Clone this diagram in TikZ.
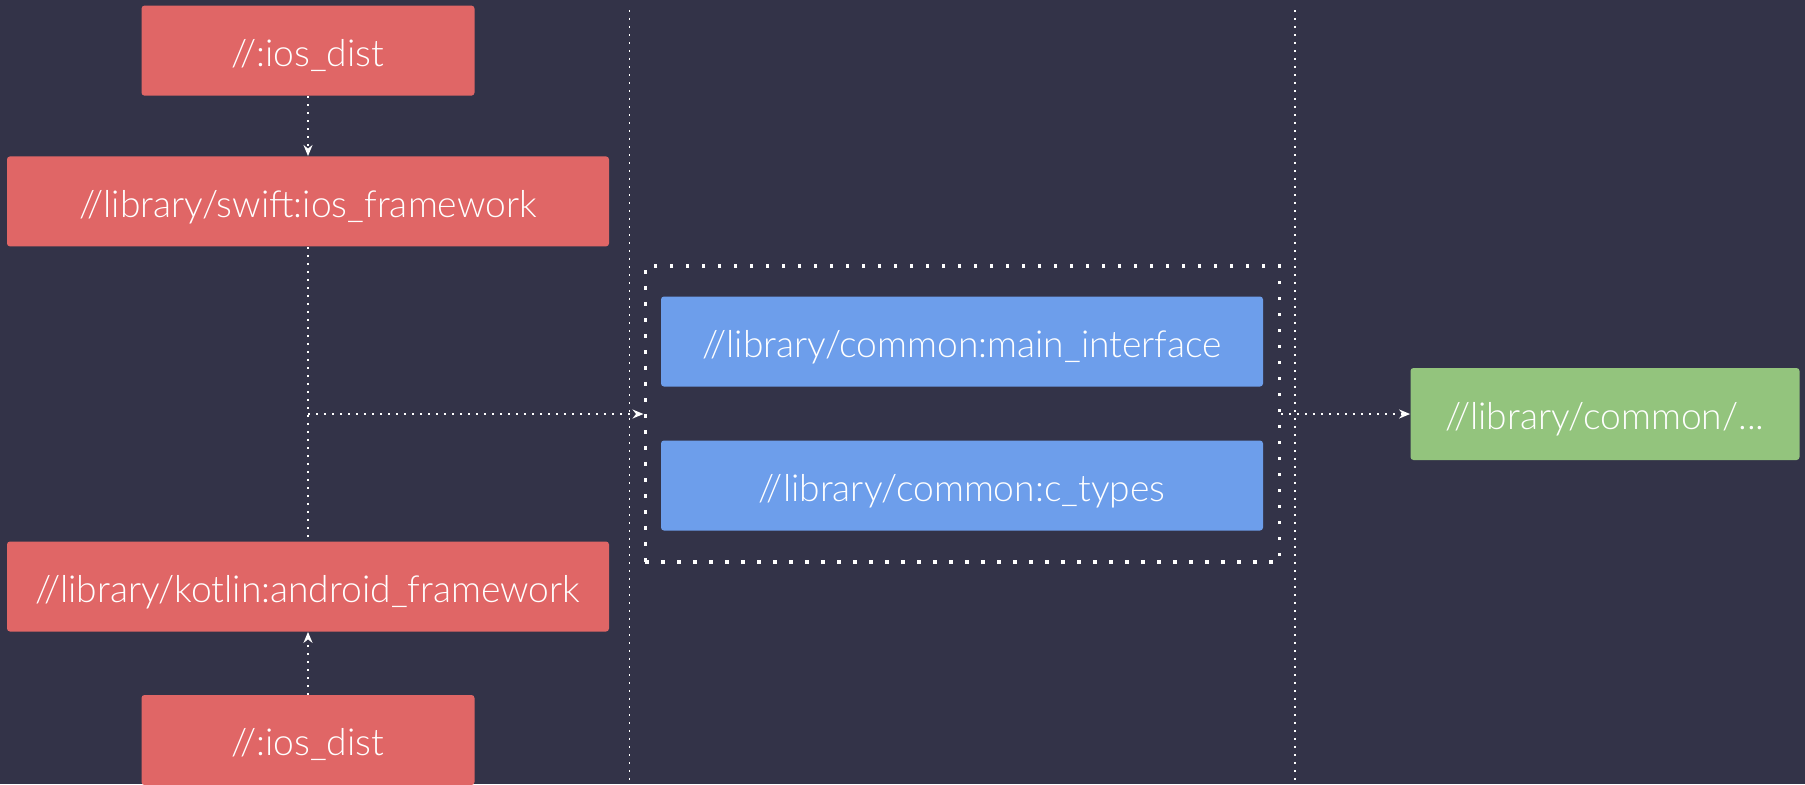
\documentclass[tikz,border=0pt]{standalone}
\usepackage{fontspec}
\setmainfont{Lato Light}
\usetikzlibrary{arrows.meta}
\definecolor{bg}{HTML}{333348}
\definecolor{tred}{HTML}{E06666}
\definecolor{tblue}{HTML}{6D9EEB}
\definecolor{tgreen}{HTML}{93C47D}
\tikzset{
  target/.style={rectangle, rounded corners=1.5pt, text=white, inner sep=0pt,
    font=\fontsize{18.6}{22}\selectfont, minimum height=45pt,
    text height=15.8pt, text depth=0pt},
  redbox/.style={target, fill=tred},
  bluebox/.style={target, fill=tblue},
  greenbox/.style={target, fill=tgreen},
  thindots/.style={draw=white, line width=0.9pt, dash pattern=on 0.9pt off 3.1pt},
  groupdots/.style={draw=white, line width=1.75pt, dash pattern=on 1.75pt off 6.25pt},
  dep/.style={thindots, -{Stealth[length=5.5pt,width=4.5pt,inset=1.8pt]}},
}
\begin{document}
\begin{tikzpicture}[x=0.5pt, y=-0.5pt]
  \fill[bg] (0,0) rectangle (1805,784);
  \useasboundingbox (0,0) rectangle (1805,784);

  % column separators
  \coordinate (s1t) at (629.5,10);
  \coordinate (s1b) at (629.5,784);
  \coordinate (s2t) at (1295,10);
  \coordinate (s2b) at (1295,784);
  \draw[thindots] (s1t) -- (s1b);
  \draw[thindots] (s2t) -- (s2b);

  % platform targets
  \node[redbox, minimum width=166.5pt] (iostop) at (308,50.6) {//:ios\_dist};
  \node[redbox, minimum width=301pt] (swift) at (308,201.4) {//library/swift:ios\_framework};
  \node[redbox, minimum width=301pt] (kotlin) at (308,586.5) {//library/kotlin:android\_framework};
  \node[redbox, minimum width=166.5pt] (iosbot) at (308,740) {//:ios\_dist};

  % common group
  \node[groupdots, rectangle, minimum width=317pt, minimum height=148pt, inner sep=0pt] (group) at (962.25,414) {};
  \node[bluebox, minimum width=301pt] (mainif) at (962,341.5) {//library/common:main\_interface};
  \node[bluebox, minimum width=301pt] (ctypes) at (962,485.5) {//library/common:c\_types};

  % downstream
  \node[greenbox, minimum width=194.5pt, minimum height=46pt] (more) at (1605,414) {//library/common/...};

  % dependencies
  \draw[dep] (iostop) -- (swift);
  \draw[dep] (iosbot) -- (kotlin);
  \draw[thindots] (swift) -- (kotlin);
  \coordinate (junction) at (swift.south |- group.west);
  \draw[dep] (junction) -- (group.west);
  \draw[dep] (group.east) -- (more.west);
\end{tikzpicture}
\end{document}
